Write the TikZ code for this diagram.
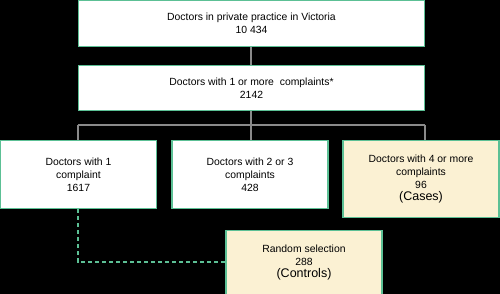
\documentclass[tikz,border=0pt]{standalone}
\usepackage{fontspec}
\setmainfont{Liberation Sans}
\definecolor{bord}{HTML}{5CC095}
\definecolor{cream}{HTML}{FBF1D3}
\definecolor{conn}{HTML}{8A8A8A}
\begin{document}
\begin{tikzpicture}[x=1pt,y=-1pt,
  box/.style={draw=bord,line width=1.2pt,fill=white,inner sep=0pt,align=center,font=\fontsize{10.4}{12.8}\selectfont},
  cbox/.style={box,fill=cream},
  conn/.style={draw=conn,line width=1.2pt},
  dconn/.style={draw=bord,line width=1.2pt,dashed,dash pattern=on 4pt off 3pt}]
\fill[black] (0,0) rectangle (500,294);
\useasboundingbox (0,0) rectangle (500,294);
\node[box,minimum width=346pt,minimum height=46pt] (a) at (251.5,23.5) {Doctors in private practice in Victoria\\10 434};
\node[box,minimum width=346pt,minimum height=45pt] (b) at (251.5,88) {Doctors with 1 or more\ \ complaints*\\2142};
\node[box,minimum width=156pt,minimum height=68pt] (c1) at (78.5,174.5) {Doctors with 1\\complaint\\1617};
\node[box,minimum width=156pt,minimum height=68pt] (c2) at (250,174.5) {Doctors with 2 or 3\\complaints\\428};
\node[cbox,minimum width=156pt,minimum height=77pt] (c3) at (421,179) {Doctors with 4 or more\\complaints\\96\\[-1pt]{\fontsize{12.5}{14}\selectfont (Cases)}};
\node[cbox,minimum width=156pt,minimum height=64pt] (d) at (304,262.5) {Random selection\\288\\[-1pt]{\fontsize{12.5}{14}\selectfont (Controls)}};
\coordinate (j) at (251,125);
\coordinate (jl) at (78,125);
\coordinate (jr) at (425,125);
\draw[conn] (a.south -| j) -- (b.north -| j);
\draw[conn] (b.south -| j) -- (j);
\draw[conn] (jl) -- (jr);
\draw[conn] (jl) -- (jl |- c1.north);
\draw[conn] (j) -- (j |- c2.north);
\draw[conn] (jr) -- (jr |- c3.north);
\coordinate (k) at (78,262);
\draw[dconn] (c1.south -| k) -- (k) -- (k -| d.west);
\end{tikzpicture}
\end{document}
